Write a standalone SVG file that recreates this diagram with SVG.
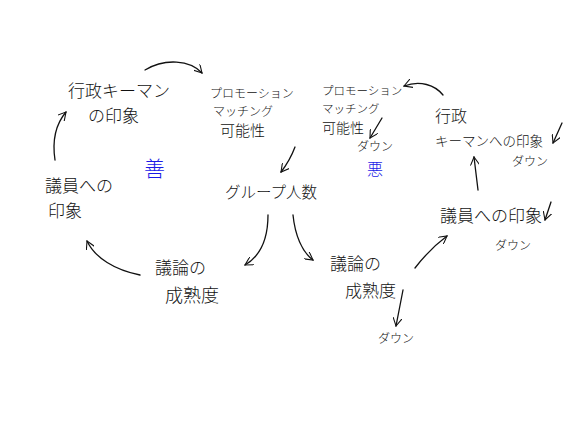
<svg xmlns="http://www.w3.org/2000/svg" width="567" height="425" viewBox="0 0 567 425">
<defs>
<marker id="ah" viewBox="0 0 10 10" refX="9" refY="5" markerWidth="9" markerHeight="9" markerUnits="userSpaceOnUse" orient="auto">
<path d="M0,0 L9,5 L0,10" fill="none" stroke="#111" stroke-width="1.2"/>
</marker>
<style>
text{font-family:"Noto Sans CJK JP","Noto Sans",sans-serif;fill:#111;font-weight:300}
.b{fill:#1a1ae6}
.c path{fill:none;stroke:#111;stroke-width:1.3;stroke-linecap:round;marker-end:url(#ah)}
</style>
</defs>
<rect width="567" height="425" fill="#fff"/>
<g id="connectors" class="c">
<path d="M145,70 C165,58 190,60 202,73"/>
<path d="M295,147 C292,155 288,163 281,172"/>
<path d="M443,95 C435,85 420,80 404,86"/>
<path d="M55,160 C52,140 55,125 66,112"/>
<path d="M140,275 C115,270 95,258 87,241"/>
<path d="M268,215 C268,235 262,255 245,265"/>
<path d="M293,215 C295,235 302,252 313,260"/>
<path d="M403,290 L396,326"/>
<path d="M415,268 C425,255 435,245 447,236"/>
<path d="M478,190 L474,157"/>
<path d="M382,118 L370,138"/>
<path d="M562,123 L553,143"/>
<path d="M551,202 L545,220"/>
</g>
<g id="gyosei-keyman">
<text x="68" y="97" font-size="17">行政キーマン</text>
<text x="88" y="122" font-size="17">の印象</text>
</g>
<g id="promotion-good">
<text x="210" y="98" font-size="12">プロモーション</text>
<text x="213" y="116" font-size="12">マッチング</text>
<text x="220" y="136" font-size="15">可能性</text>
</g>
<g id="promotion-bad">
<text x="322" y="95" font-size="11.5">プロモーション</text>
<text x="322" y="113" font-size="11.5">マッチング</text>
<text x="322" y="133" font-size="14">可能性</text>
<text x="357" y="151" font-size="12">ダウン</text>
<text x="367" y="175" font-size="16" class="b">悪</text>
</g>
<g id="zen">
<text x="144" y="176" font-size="21" class="b">善</text>
</g>
<g id="group-size">
<text x="225" y="198" font-size="15.5">グループ人数</text>
</g>
<g id="giin-left">
<text x="45" y="192" font-size="17">議員への</text>
<text x="48" y="217" font-size="17">印象</text>
</g>
<g id="giron-left">
<text x="155" y="274" font-size="17">議論の</text>
<text x="165" y="302" font-size="18">成熟度</text>
</g>
<g id="giron-right">
<text x="330" y="270" font-size="17">議論の</text>
<text x="345" y="297" font-size="17">成熟度</text>
<text x="378" y="343" font-size="12">ダウン</text>
</g>
<g id="giin-right">
<text x="440" y="222" font-size="17">議員への印象</text>
<text x="495" y="250" font-size="12">ダウン</text>
</g>
<g id="gyosei-right">
<text x="435" y="122" font-size="16">行政</text>
<text x="435" y="146" font-size="13.5">キーマンへの印象</text>
<text x="512" y="166" font-size="12">ダウン</text>
</g>
</svg>
